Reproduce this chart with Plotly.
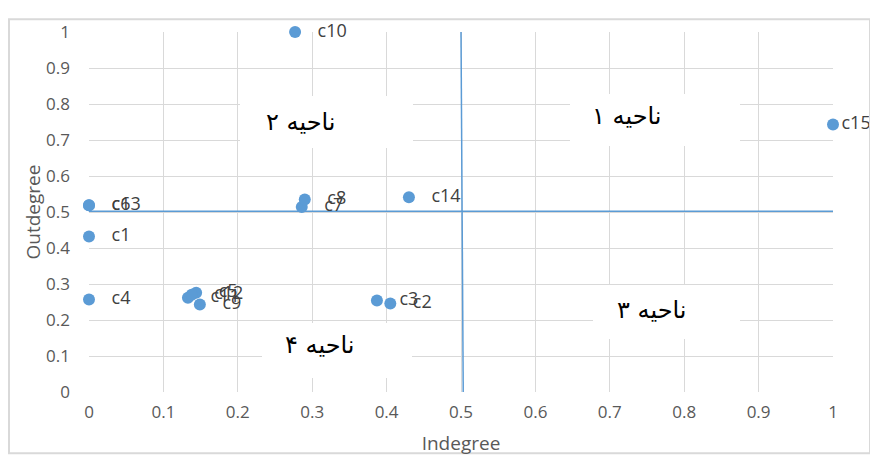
import plotly.graph_objects as go

names = ["c1", "c2", "c3", "c4", "c5", "c6", "c7", "c8", "c9", "c10", "c11", "c12", "c13", "c14", "c15"]
indegree = [0.0, 0.405, 0.387, 0.0, 0.144, 0.0, 0.286, 0.290, 0.149, 0.277, 0.133, 0.138, 0.0, 0.430, 1.0]
outdegree = [0.432, 0.246, 0.254, 0.257, 0.276, 0.519, 0.514, 0.535, 0.243, 1.0, 0.262, 0.270, 0.519, 0.541, 0.743]

h_line_x = [0, 1]
h_line_y = [0.502, 0.502]
v_line_x = [0.500, 0.503]
v_line_y = [1, 0]

region_labels = ["ناحیه ۱", "ناحیه ۲", "ناحیه ۳", "ناحیه ۴"]
tick_vals = [0, 0.1, 0.2, 0.3, 0.4, 0.5, 0.6, 0.7, 0.8, 0.9, 1]
tick_text = ["0", "0.1", "0.2", "0.3", "0.4", "0.5", "0.6", "0.7", "0.8", "0.9", "1"]

BLUE = "#5b9bd5"
GRID = "#d9d9d9"
TXT = "#595959"
FONT = "'Open Sans', Lato, sans-serif"

# label gap: labels sit right of their point; the one at the right edge is pulled in
label_templates = ["%{text}" if x >= 1 else "   %{text}" for x in indegree]

fig = go.Figure()
fig.add_trace(go.Scatter(x=h_line_x, y=h_line_y, mode="lines",
                         line=dict(color=BLUE, width=1.5), hoverinfo="skip", showlegend=False))
fig.add_trace(go.Scatter(x=v_line_x, y=v_line_y, mode="lines",
                         line=dict(color=BLUE, width=1.5), hoverinfo="skip", showlegend=False))
fig.add_trace(go.Scatter(
    x=indegree, y=outdegree, mode="markers+text", text=names,
    texttemplate=label_templates,
    textposition="middle right",
    textfont=dict(family=FONT, size=18, color="#404040"),
    marker=dict(color=BLUE, size=12),
    cliponaxis=False, showlegend=False))

# Region label boxes (plot-area pixel geometry converted to data units)
X0, XS = 89, 744
Y0, YS = 392, 370
def dx(px):
    return (px - X0) / XS
def dy(py):
    return (Y0 - py) / YS

boxes = [  # (box left, right, top, bottom, text center x, text center y)
    (570, 740, 86, 138, 626, 108),
    (240, 413, 88, 140, 300, 114),
    (593, 740, 283, 337, 651, 308),
    (262, 412, 322, 377, 319, 344),
]
annotations = []
for lbl, (l, r, t, b, tx, ty) in zip(region_labels, boxes):
    annotations.append(dict(
        x=dx((l + r) / 2), y=dy((t + b) / 2), xref="x", yref="y",
        text=" ", showarrow=False, width=r - l, height=b - t,
        bgcolor="white", borderpad=0, borderwidth=0))
    annotations.append(dict(
        x=dx(tx), y=dy(ty), xref="x", yref="y", text=lbl, showarrow=False,
        font=dict(family="DejaVu Sans, sans-serif", size=24, color="black")))

# the page has an 8px body margin: figure is sized so it fits the 878x462 window
fig.update_layout(
    width=870, height=454,
    margin=dict(l=81, r=45, t=14, b=70),
    paper_bgcolor="white", plot_bgcolor="white",
    font=dict(family=FONT, color=TXT),
    annotations=annotations,
    shapes=[dict(type="rect", xref="paper", yref="paper",
                 x0=dx(9), x1=dx(870), y0=dy(455), y1=dy(9),
                 line=dict(color=GRID, width=2), fillcolor="rgba(0,0,0,0)")],
    xaxis=dict(range=[0, 1], tickvals=tick_vals, ticktext=tick_text,
               showgrid=True, gridcolor=GRID, gridwidth=1, zeroline=False,
               showline=False, ticks="", ticklabelstandoff=8,
               tickfont=dict(family=FONT, size=17, color=TXT),
               title=dict(text="Indegree", font=dict(family=FONT, size=19, color=TXT), standoff=14)),
    yaxis=dict(range=[0, 1], tickvals=tick_vals, ticktext=tick_text,
               showgrid=True, gridcolor=GRID, gridwidth=1, zeroline=False,
               showline=False, ticks="", ticklabelstandoff=18,
               tickfont=dict(family=FONT, size=17, color=TXT),
               title=dict(text="Outdegree", font=dict(family=FONT, size=19, color=TXT), standoff=0)),
)

fig.write_html("out.html")
